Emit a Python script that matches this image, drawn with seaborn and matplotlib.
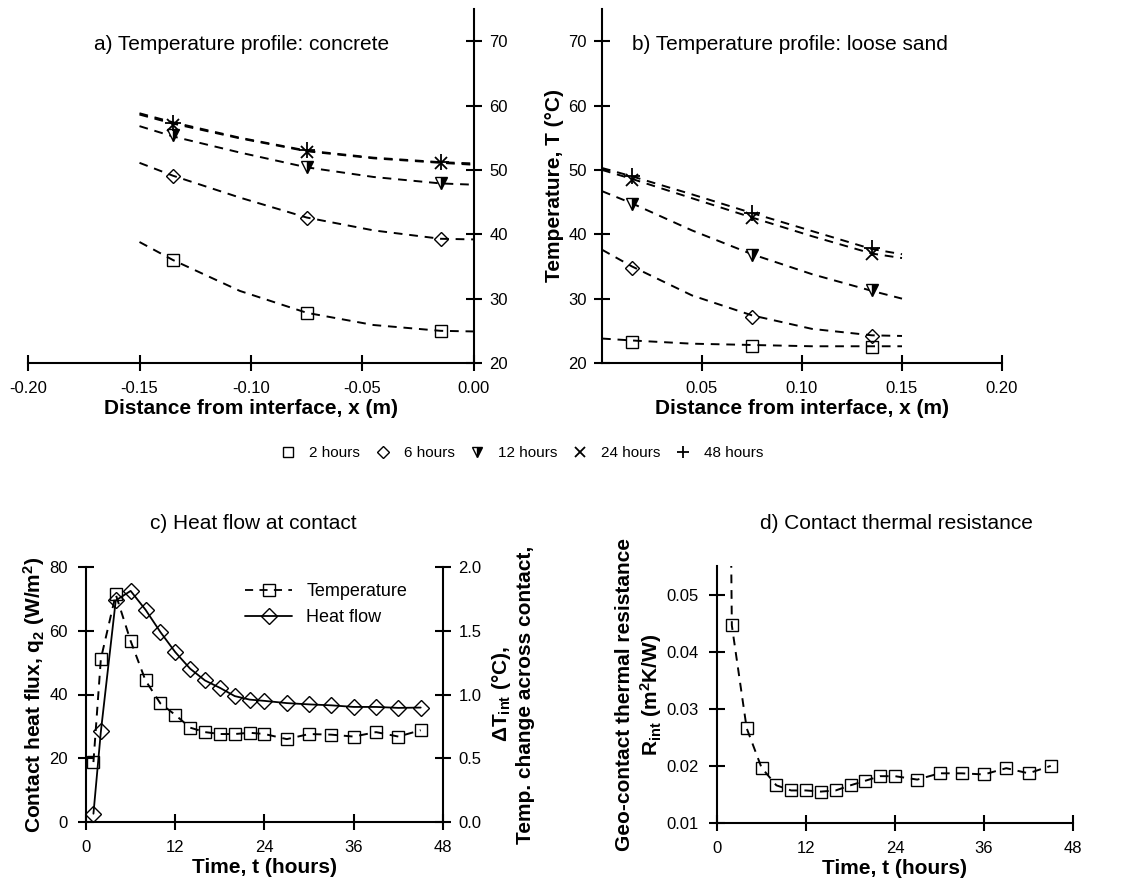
import matplotlib
matplotlib.use('Agg')
import matplotlib.pyplot as plt
import seaborn as sns
from matplotlib.lines import Line2D
from matplotlib.ticker import FormatStrFormatter

# ---- a) concrete: measured points and fitted profiles
conc_x = [-0.135, -0.075, -0.015]
conc_2h = [36.0, 27.8, 25.0]
conc_6h = [49.1, 42.6, 39.3]
conc_12h = [55.4, 50.4, 47.9]
conc_24h = [57.0, 52.8, 51.0]
conc_48h = [57.3, 53.1, 51.2]

conc_fit_x = [-0.15, -0.135, -0.105, -0.075, -0.045, -0.015, 0.0]
conc_fit_2h = [38.8, 36.0, 31.2, 27.8, 25.9, 25.0, 24.9]
conc_fit_6h = [51.1, 49.1, 45.7, 42.6, 40.6, 39.3, 39.2]
conc_fit_12h = [56.8, 55.2, 52.7, 50.4, 48.9, 47.9, 47.7]
conc_fit_24h = [58.6, 57.2, 54.9, 52.9, 51.8, 51.1, 50.8]
conc_fit_48h = [58.8, 57.4, 55.0, 53.0, 51.9, 51.2, 51.0]

# ---- b) loose sand
sand_x = [0.015, 0.075, 0.135]
sand_2h = [23.3, 22.6, 22.5]
sand_6h = [34.8, 27.2, 24.2]
sand_12h = [44.7, 36.8, 31.4]
sand_24h = [48.5, 42.5, 37.0]
sand_48h = [49.0, 43.3, 37.8]

sand_fit_x = [0.0, 0.015, 0.045, 0.075, 0.105, 0.135, 0.15]
sand_fit_2h = [23.8, 23.5, 23.0, 22.8, 22.6, 22.6, 22.6]
sand_fit_6h = [37.6, 35.0, 30.5, 27.4, 25.3, 24.3, 24.2]
sand_fit_12h = [46.7, 44.8, 40.6, 36.9, 33.8, 31.2, 30.0]
sand_fit_24h = [50.0, 48.6, 45.6, 42.6, 39.7, 37.0, 36.3]
sand_fit_48h = [50.3, 49.0, 46.2, 43.3, 40.5, 37.7, 36.9]

hour_labels = ['2 hours', '6 hours', '12 hours', '24 hours', '48 hours']

# ---- c) and d) time series
t_hours = [1, 2, 4, 6, 8, 10, 12, 14, 16, 18, 20, 22, 24, 27, 30, 33, 36, 39, 42, 45]
delta_t = [0.47, 1.28, 1.785, 1.42, 1.11, 0.93, 0.84, 0.74, 0.705, 0.69,
           0.69, 0.70, 0.69, 0.65, 0.69, 0.685, 0.67, 0.705, 0.67, 0.72]
heat_flux = [2.6, 28.4, 69.5, 72.5, 66.6, 59.6, 53.3, 48.1, 44.4, 42.1,
             39.5, 38.4, 38.0, 37.3, 36.9, 36.6, 36.1, 36.1, 35.8, 35.9]
r_int = [0.18, 0.0446, 0.0266, 0.0197, 0.0166, 0.0157, 0.0157, 0.0155, 0.0157, 0.0166,
         0.0174, 0.0182, 0.0182, 0.0176, 0.0187, 0.0187, 0.0185, 0.0196, 0.0187, 0.0200]

sns.set_style('ticks')
plt.rcParams['font.family'] = ['Liberation Sans', 'DejaVu Sans']
plt.rcParams['axes.unicode_minus'] = False
plt.rcParams['mathtext.default'] = 'regular'
plt.rcParams['text.color'] = 'black'
plt.rcParams['axes.labelcolor'] = 'black'

DASH = (0, (4.5, 3.5))
styles = [
    dict(marker='s', markersize=8, markerfacecolor='none', markeredgewidth=1.0),
    dict(marker='D', markersize=7, markerfacecolor='none', markeredgewidth=1.0),
    dict(marker='v', markersize=9, markerfacecolor='black', fillstyle='right',
         markerfacecoloralt='white', markeredgewidth=1.0),
    dict(marker='x', markersize=9, markeredgewidth=1.3),
    dict(marker='+', markersize=11, markeredgewidth=1.3),
]

fig = plt.figure(figsize=(11.28, 8.88), dpi=100)
W, H = 1128, 888


def px_axes(l, t, r, b):
    return fig.add_axes([l / W, 1 - b / H, (r - l) / W, (b - t) / H])


def style_axis(ax):
    for s in ax.spines.values():
        s.set_linewidth(1.5)
        s.set_color('black')
    ax.tick_params(direction='inout', length=12, width=1.5, labelsize=12, colors='black', pad=7)


def profile(ax, fit_x, fits, pt_x, pts):
    for fit, pt, st in zip(fits, pts, styles):
        sns.lineplot(x=fit_x, y=fit, ax=ax, color='black', linewidth=1.4, linestyle=DASH)
        sns.lineplot(x=pt_x, y=pt, ax=ax, color='black', linestyle='none',
                     markeredgecolor='black', zorder=3, **st)


# a) concrete
ax_a = px_axes(28, 9, 474, 363)
profile(ax_a, conc_fit_x,
        [conc_fit_2h, conc_fit_6h, conc_fit_12h, conc_fit_24h, conc_fit_48h],
        conc_x, [conc_2h, conc_6h, conc_12h, conc_24h, conc_48h])
ax_a.set_xlim(-0.2, 0.0)
ax_a.set_ylim(20, 75)
ax_a.spines[['left', 'top']].set_visible(False)
ax_a.yaxis.tick_right()
ax_a.set_xticks([-0.2, -0.15, -0.1, -0.05, 0.0])
ax_a.set_yticks([20, 30, 40, 50, 60, 70])
ax_a.xaxis.set_major_formatter(FormatStrFormatter('%.2f'))
style_axis(ax_a)
ax_a.tick_params(axis='y', pad=5)
ax_a.set_xlabel('Distance from interface, x (m)', fontsize=15, fontweight='bold', labelpad=2)
ax_a.text(0.478, 0.9, 'a) Temperature profile: concrete', transform=ax_a.transAxes,
          ha='center', va='center', fontsize=15)

# b) loose sand
ax_b = px_axes(602, 9, 1002, 363)
profile(ax_b, sand_fit_x,
        [sand_fit_2h, sand_fit_6h, sand_fit_12h, sand_fit_24h, sand_fit_48h],
        sand_x, [sand_2h, sand_6h, sand_12h, sand_24h, sand_48h])
ax_b.set_xlim(0.0, 0.2)
ax_b.set_ylim(20, 75)
ax_b.spines[['right', 'top']].set_visible(False)
ax_b.set_xticks([0.05, 0.1, 0.15, 0.2])
ax_b.set_yticks([20, 30, 40, 50, 60, 70])
ax_b.xaxis.set_major_formatter(FormatStrFormatter('%.2f'))
style_axis(ax_b)
ax_b.tick_params(axis='y', pad=5)
ax_b.set_xlabel('Distance from interface, x (m)', fontsize=15, fontweight='bold', labelpad=2)
ax_b.set_ylabel('Temperature, T (°C)', fontsize=15, fontweight='bold', labelpad=3)
ax_b.text(0.47, 0.9, 'b) Temperature profile: loose sand', transform=ax_b.transAxes,
          ha='center', va='center', fontsize=15)

# shared legend
handles = [Line2D([], [], color='black', linestyle='none', markeredgecolor='black', **st)
           for st in styles]
fig.legend(handles, hour_labels, loc='center', bbox_to_anchor=(522 / W, 1 - 453 / H),
           ncol=5, frameon=False, fontsize=11, handlelength=1.0, handletextpad=0.85,
           columnspacing=1.0, markerscale=0.85)

# c) heat flow at contact
ax_c = px_axes(86, 567, 443, 822)
ax_c2 = ax_c.twinx()
sns.lineplot(x=t_hours, y=heat_flux, ax=ax_c, color='black', linewidth=1.3,
             marker='D', markersize=8, markerfacecolor='none', markeredgecolor='black',
             markeredgewidth=1.0)
sns.lineplot(x=t_hours, y=delta_t, ax=ax_c2, color='black', linewidth=1.4, linestyle=DASH,
             marker='s', markersize=9, markerfacecolor='none', markeredgecolor='black',
             markeredgewidth=1.0)
ax_c.set_xlim(0, 48)
ax_c.set_ylim(0, 80)
ax_c2.set_ylim(0, 2)
ax_c.set_xticks([0, 12, 24, 36, 48])
ax_c.set_yticks([0, 20, 40, 60, 80])
ax_c2.set_yticks([0, 0.5, 1.0, 1.5, 2.0])
ax_c2.yaxis.set_major_formatter(FormatStrFormatter('%.1f'))
ax_c.spines[['top', 'right']].set_visible(False)
ax_c2.spines[['top', 'left', 'bottom']].set_visible(False)
style_axis(ax_c)
style_axis(ax_c2)
ax_c2.tick_params(axis='y', pad=5)
ax_c.set_xlabel('Time, t (hours)', fontsize=15, fontweight='bold', labelpad=2)
ax_c.set_ylabel('Contact heat flux, q$_2$ (W/m$^2$)', fontsize=15, fontweight='bold',
                labelpad=2)
ax_c2.set_ylabel('ΔT$_{int}$ (°C),\nTemp. change across contact,', fontsize=15,
                 fontweight='bold', labelpad=6)
leg_c = [Line2D([], [], color='black', linewidth=1.3, linestyle=DASH, marker='s',
                markersize=9, markerfacecolor='none'),
         Line2D([], [], color='black', linewidth=1.3, marker='D', markersize=8,
                markerfacecolor='none')]
ax_c.legend(leg_c, ['Temperature', 'Heat flow'], loc='upper left',
            bbox_to_anchor=(0.40, 1.0), frameon=False, fontsize=13, handlelength=2.6)
fig.text(253 / W, 1 - 523 / H, 'c) Heat flow at contact', ha='center', va='center', fontsize=15)

# d) contact thermal resistance
ax_d = px_axes(717, 566, 1073, 823)
sns.lineplot(x=t_hours, y=r_int, ax=ax_d, color='black', linewidth=1.4, linestyle=DASH,
             marker='s', markersize=9, markerfacecolor='none', markeredgecolor='black',
             markeredgewidth=1.0)
ax_d.set_xlim(0, 48)
ax_d.set_ylim(0.01, 0.055)
ax_d.set_xticks([0, 12, 24, 36, 48])
ax_d.set_yticks([0.01, 0.02, 0.03, 0.04, 0.05])
ax_d.yaxis.set_major_formatter(FormatStrFormatter('%.2f'))
ax_d.spines[['top', 'right']].set_visible(False)
style_axis(ax_d)
ax_d.set_xlabel('Time, t (hours)', fontsize=15, fontweight='bold', labelpad=2)
ax_d.set_ylabel('Geo-contact thermal resistance\nR$_{int}$ (m$^2$K/W)', fontsize=15,
                fontweight='bold', labelpad=2)
fig.text(896 / W, 1 - 523 / H, 'd) Contact thermal resistance', ha='center', va='center',
         fontsize=15)

fig.savefig('out.png', dpi=100, facecolor='white')
